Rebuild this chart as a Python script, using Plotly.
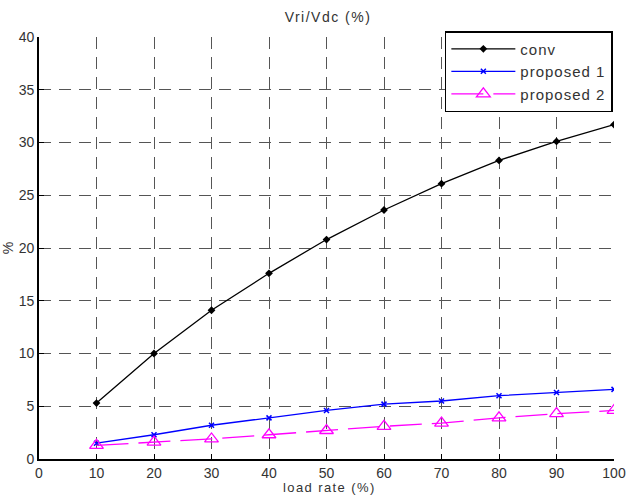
import plotly.graph_objects as go

load_rate = [10, 20, 30, 40, 50, 60, 70, 80, 90, 100]
conv = [5.3, 10.0, 14.1, 17.6, 20.8, 23.6, 26.1, 28.3, 30.1, 31.7]
proposed1 = [1.5, 2.3, 3.2, 3.9, 4.6, 5.2, 5.5, 6.0, 6.3, 6.6]
proposed2 = [1.3, 1.6, 1.9, 2.3, 2.7, 3.1, 3.4, 3.9, 4.3, 4.6]
x_ticks = [0, 10, 20, 30, 40, 50, 60, 70, 80, 90, 100]
y_ticks = [0, 5, 10, 15, 20, 25, 30, 35, 40]

FONT = "Liberation Sans, Arial"
TXT = "#333333"


def spaced(s, px=1.0):
    return f'<span style="letter-spacing:{px}px">{s}</span>'


fig = go.Figure()
fig.add_trace(go.Scatter(x=load_rate, y=conv, name=spaced("conv"), mode="lines+markers",
                         line=dict(color="black", width=1.3),
                         marker=dict(symbol="diamond", size=6, color="black")))
fig.add_trace(go.Scatter(x=load_rate, y=proposed1, name=spaced("proposed 1"), mode="lines+markers",
                         line=dict(color="#0000ff", width=1.3),
                         marker=dict(symbol="x-thin", size=5, color="#0000ff",
                                     line=dict(color="#0000ff", width=1.5))))
fig.add_trace(go.Scatter(x=load_rate, y=proposed2, name=spaced("proposed 2"), mode="lines+markers",
                         line=dict(color="#ff00ff", width=1.3, dash="32px,10px"),
                         marker=dict(symbol="triangle-up-open", size=12, color="#ff00ff",
                                     line=dict(color="#ff00ff", width=1.3))))

axis_common = dict(showgrid=True, gridcolor="#555555", griddash="12px,8px", gridwidth=1.4,
                   zeroline=False, showline=True, linecolor="black", linewidth=1.8,
                   ticks="inside", ticklen=5, tickcolor="black", automargin=False,
                   tickfont=dict(family=FONT, size=14, color=TXT),
                   mirror=False)

fig.update_layout(
    width=626, height=495,
    margin=dict(l=39, r=12, t=37, b=36),
    paper_bgcolor="white", plot_bgcolor="white",
    title=dict(text=spaced("Vri/Vdc (%)", 1.5), x=0.524, xanchor="center", y=0.966, yanchor="middle",
               font=dict(family=FONT, size=14, color=TXT)),
    xaxis=dict(range=[0, 100], tickvals=x_ticks, **axis_common),
    yaxis=dict(range=[0, 40], tickvals=y_ticks,
               title=dict(text="%", standoff=12,
                          font=dict(family=FONT, size=14, color=TXT)),
               **axis_common),
    legend=dict(x=0.998, y=1.014, xanchor="right", yanchor="top",
                bgcolor="white", bordercolor="black", borderwidth=1.5,
                font=dict(family=FONT, size=15, color=TXT),
                tracegroupgap=0, itemwidth=64),
    showlegend=True,
)

fig.add_annotation(text=spaced("load rate (%)", 1.4), xref="paper", yref="paper",
                   x=0.505, y=-0.0685, xanchor="center", yanchor="middle", showarrow=False,
                   borderpad=0, font=dict(family=FONT, size=13, color=TXT))

fig.write_html("out.html")
